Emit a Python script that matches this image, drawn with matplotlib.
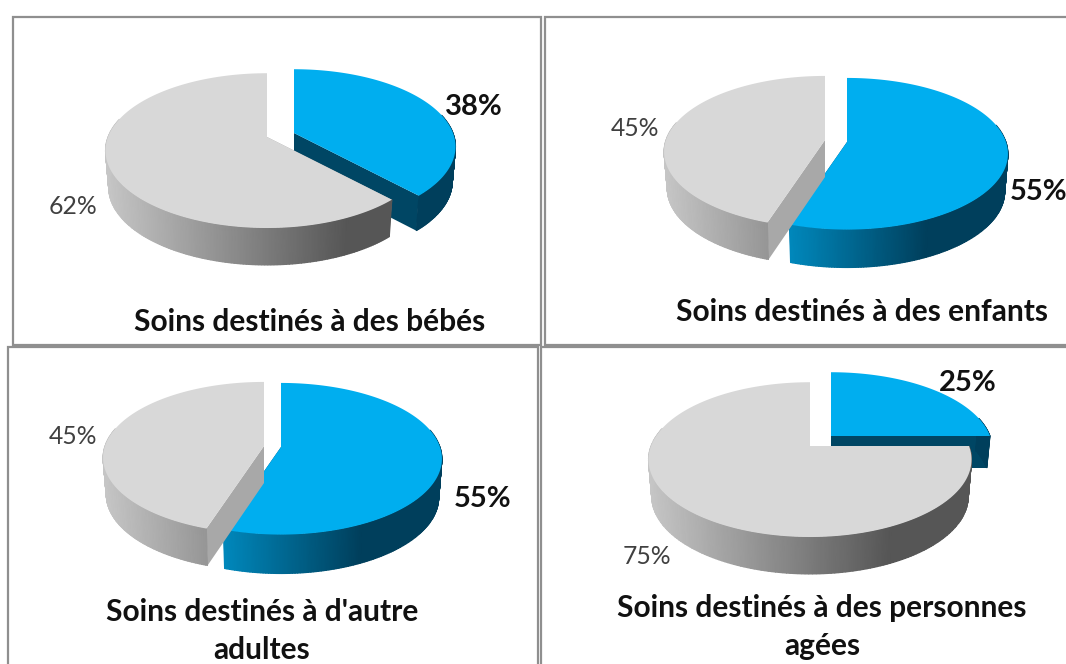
import numpy as np
import matplotlib
matplotlib.use("Agg")
import matplotlib.pyplot as plt
from matplotlib.colors import LinearSegmentedColormap
from matplotlib.patches import Polygon, Rectangle

# Data
titles = [
    "Soins destinés à des bébés",
    "Soins destinés à des enfants",
    "Soins destinés à d'autre\nadultes",
    "Soins destinés à des personnes\nagées",
]
blue_values = [38, 55, 55, 25]
gray_values = [62, 45, 45, 75]

# Layout in pixels of the picture
frames = [(13, 17, 541, 345), (545, 17, 1075, 345), (8, 347, 538, 675), (541, 347, 1075, 675)]
blue_apex = [(294, 133), (847, 142), (281, 447), (831, 436)]
gray_apex = [(267, 137), (825, 140), (264, 446), (810, 446)]
blue_label_pos = [(474, 107), (1039, 192), (483, 499), (968, 383)]
gray_label_pos = [(73, 207), (635, 129), (73, 437), (647, 557)]
title_pos = [(310, 322), (862, 312), (262, 631), (822, 627)]
squash = [75, 74, 74, 75]
persp = [0.176, 0.155, 0.155, 0.176]
blue_depth = [35, 38, 39, 32]
gray_depth = [37, 37, 37, 37]

RADIUS = 159
BOTTOM_SCALE = 0.98

BLUE_TOP = "#00aeef"
BLUE_FACE = "#004664"
GRAY_TOP = "#d8d8d8"
GRAY_FACE = "#a8a8a8"
blue_side = LinearSegmentedColormap.from_list("b", [(0, "#00aeef"), (0.25, "#0094cc"), (0.75, "#003f5c"), (1, "#003f5c")])
gray_side = LinearSegmentedColormap.from_list("g", [(0, "#c6c6c6"), (0.75, "#565656"), (1, "#565656")])


def draw_slice(ax, start, end, apex, s, k, depth, top_color, face_color, cmap, z):
    # circle seen in perspective, theta clockwise from 12 o'clock
    theta = np.linspace(start, end, 240)
    u, v = np.sin(theta), -np.cos(theta)
    w = 1 - k * v
    x = apex[0] + RADIUS * u / w
    y = apex[1] + s * v / w
    bx = apex[0] + (x - apex[0]) * BOTTOM_SCALE
    by = y + depth

    # cut faces
    for j in (0, -1):
        ax.add_patch(Polygon([apex, (x[j], y[j]), (bx[j], by[j]), (apex[0], apex[1] + depth)],
                             facecolor=face_color, edgecolor="none", zorder=z))
    # outer side, shaded along x, only the part facing the viewer
    front = v >= -0.25
    shade = (x - (apex[0] - RADIUS * 1.016)) / (2 * RADIUS * 1.016)
    ax.pcolormesh(np.vstack([x[front], bx[front]]), np.vstack([y[front], by[front]]),
                  np.vstack([shade[front], shade[front]]),
                  shading="gouraud", cmap=cmap, vmin=0, vmax=1, zorder=z + 1)
    # top
    ax.add_patch(Polygon([apex] + list(zip(x, y)), facecolor=top_color, edgecolor="none", zorder=z + 2))


fig = plt.figure(figsize=(10.66, 6.64), dpi=100)
ax = fig.add_axes([0, 0, 1, 1])
ax.set_xlim(0, 1066)
ax.set_ylim(664, 0)
ax.axis("off")

plt.rcParams["font.family"] = ["Lato", "DejaVu Sans"]

for i in range(4):
    x0, y0, x1, y1 = frames[i]
    ax.add_patch(Rectangle((x0, y0), x1 - x0, y1 - y0, facecolor="white", edgecolor="#8f8f8f", lw=1.6, zorder=1))

    total = blue_values[i] + gray_values[i]
    cut = 2 * np.pi * blue_values[i] / total
    draw_slice(ax, 0, cut, blue_apex[i], squash[i], persp[i], blue_depth[i], BLUE_TOP, BLUE_FACE, blue_side, 2)
    draw_slice(ax, cut, 2 * np.pi, gray_apex[i], squash[i], persp[i], gray_depth[i], GRAY_TOP, GRAY_FACE, gray_side, 5)

    ax.text(*blue_label_pos[i], f"{blue_values[i]}%", fontsize=21, fontweight="bold",
            color="#111111", ha="center", va="center", zorder=9)
    ax.text(*gray_label_pos[i], f"{gray_values[i]}%", fontsize=17.8,
            color="#404040", ha="center", va="center", zorder=9)
    ax.text(*title_pos[i], titles[i], fontsize=21.5, fontweight="bold", color="#111111",
            ha="center", va="center", linespacing=1.43, zorder=9)

fig.savefig("out.png", dpi=100)
